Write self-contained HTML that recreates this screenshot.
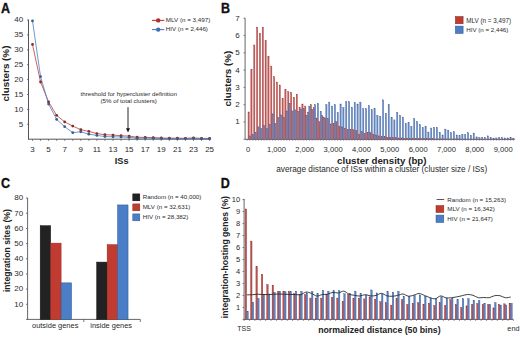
<!DOCTYPE html>
<html><head><meta charset="utf-8"><title>Figure</title>
<style>
html,body{margin:0;padding:0;background:#fff;}
body{width:520px;height:338px;overflow:hidden;}
svg{display:block;font-family:"Liberation Sans", sans-serif;}
</style></head>
<body>
<svg width="520" height="338" viewBox="0 0 520 338">
<rect width="520" height="338" fill="#fff"/>
<text x="1.00" y="12.80" font-size="12.5" font-weight="bold" text-anchor="start" fill="#111" transform="translate(1 12.8) scale(1 1.13) translate(-1 -12.8)" stroke="#111" stroke-width="0.3">A</text>
<line x1="28.50" y1="19.60" x2="28.50" y2="139.20" stroke="#555" stroke-width="1.0"/>
<line x1="28.00" y1="139.20" x2="209.80" y2="139.20" stroke="#555" stroke-width="1.0"/>
<line x1="27.00" y1="124.30" x2="28.50" y2="124.30" stroke="#555" stroke-width="0.8"/>
<text x="23.10" y="126.70" font-size="8" text-anchor="end" fill="#2a2a2a">5</text>
<line x1="27.00" y1="109.40" x2="28.50" y2="109.40" stroke="#555" stroke-width="0.8"/>
<text x="23.10" y="111.80" font-size="8" text-anchor="end" fill="#2a2a2a">10</text>
<line x1="27.00" y1="94.50" x2="28.50" y2="94.50" stroke="#555" stroke-width="0.8"/>
<text x="23.10" y="96.90" font-size="8" text-anchor="end" fill="#2a2a2a">15</text>
<line x1="27.00" y1="79.60" x2="28.50" y2="79.60" stroke="#555" stroke-width="0.8"/>
<text x="23.10" y="82.00" font-size="8" text-anchor="end" fill="#2a2a2a">20</text>
<line x1="27.00" y1="64.70" x2="28.50" y2="64.70" stroke="#555" stroke-width="0.8"/>
<text x="23.10" y="67.10" font-size="8" text-anchor="end" fill="#2a2a2a">25</text>
<line x1="27.00" y1="49.80" x2="28.50" y2="49.80" stroke="#555" stroke-width="0.8"/>
<text x="23.10" y="52.20" font-size="8" text-anchor="end" fill="#2a2a2a">30</text>
<line x1="27.00" y1="34.90" x2="28.50" y2="34.90" stroke="#555" stroke-width="0.8"/>
<text x="23.10" y="37.30" font-size="8" text-anchor="end" fill="#2a2a2a">35</text>
<line x1="27.00" y1="20.00" x2="28.50" y2="20.00" stroke="#555" stroke-width="0.8"/>
<text x="23.10" y="22.40" font-size="8" text-anchor="end" fill="#2a2a2a">40</text>
<line x1="32.50" y1="139.20" x2="32.50" y2="140.80" stroke="#555" stroke-width="0.8"/>
<text x="32.50" y="151.60" font-size="8" text-anchor="middle" fill="#2a2a2a">3</text>
<line x1="40.55" y1="139.20" x2="40.55" y2="140.80" stroke="#555" stroke-width="0.8"/>
<line x1="48.60" y1="139.20" x2="48.60" y2="140.80" stroke="#555" stroke-width="0.8"/>
<text x="48.60" y="151.60" font-size="8" text-anchor="middle" fill="#2a2a2a">5</text>
<line x1="56.65" y1="139.20" x2="56.65" y2="140.80" stroke="#555" stroke-width="0.8"/>
<line x1="64.70" y1="139.20" x2="64.70" y2="140.80" stroke="#555" stroke-width="0.8"/>
<text x="64.70" y="151.60" font-size="8" text-anchor="middle" fill="#2a2a2a">7</text>
<line x1="72.75" y1="139.20" x2="72.75" y2="140.80" stroke="#555" stroke-width="0.8"/>
<line x1="80.80" y1="139.20" x2="80.80" y2="140.80" stroke="#555" stroke-width="0.8"/>
<text x="80.80" y="151.60" font-size="8" text-anchor="middle" fill="#2a2a2a">9</text>
<line x1="88.85" y1="139.20" x2="88.85" y2="140.80" stroke="#555" stroke-width="0.8"/>
<line x1="96.90" y1="139.20" x2="96.90" y2="140.80" stroke="#555" stroke-width="0.8"/>
<text x="96.90" y="151.60" font-size="8" text-anchor="middle" fill="#2a2a2a">11</text>
<line x1="104.95" y1="139.20" x2="104.95" y2="140.80" stroke="#555" stroke-width="0.8"/>
<line x1="113.00" y1="139.20" x2="113.00" y2="140.80" stroke="#555" stroke-width="0.8"/>
<text x="113.00" y="151.60" font-size="8" text-anchor="middle" fill="#2a2a2a">13</text>
<line x1="121.05" y1="139.20" x2="121.05" y2="140.80" stroke="#555" stroke-width="0.8"/>
<line x1="129.10" y1="139.20" x2="129.10" y2="140.80" stroke="#555" stroke-width="0.8"/>
<text x="129.10" y="151.60" font-size="8" text-anchor="middle" fill="#2a2a2a">15</text>
<line x1="137.15" y1="139.20" x2="137.15" y2="140.80" stroke="#555" stroke-width="0.8"/>
<line x1="145.20" y1="139.20" x2="145.20" y2="140.80" stroke="#555" stroke-width="0.8"/>
<text x="145.20" y="151.60" font-size="8" text-anchor="middle" fill="#2a2a2a">17</text>
<line x1="153.25" y1="139.20" x2="153.25" y2="140.80" stroke="#555" stroke-width="0.8"/>
<line x1="161.30" y1="139.20" x2="161.30" y2="140.80" stroke="#555" stroke-width="0.8"/>
<text x="161.30" y="151.60" font-size="8" text-anchor="middle" fill="#2a2a2a">19</text>
<line x1="169.35" y1="139.20" x2="169.35" y2="140.80" stroke="#555" stroke-width="0.8"/>
<line x1="177.40" y1="139.20" x2="177.40" y2="140.80" stroke="#555" stroke-width="0.8"/>
<text x="177.40" y="151.60" font-size="8" text-anchor="middle" fill="#2a2a2a">21</text>
<line x1="185.45" y1="139.20" x2="185.45" y2="140.80" stroke="#555" stroke-width="0.8"/>
<line x1="193.50" y1="139.20" x2="193.50" y2="140.80" stroke="#555" stroke-width="0.8"/>
<text x="193.50" y="151.60" font-size="8" text-anchor="middle" fill="#2a2a2a">23</text>
<line x1="201.55" y1="139.20" x2="201.55" y2="140.80" stroke="#555" stroke-width="0.8"/>
<line x1="209.60" y1="139.20" x2="209.60" y2="140.80" stroke="#555" stroke-width="0.8"/>
<text x="209.60" y="151.60" font-size="8" text-anchor="middle" fill="#2a2a2a">25</text>
<text x="121.70" y="163.90" font-size="9.2" font-weight="bold" text-anchor="middle" fill="#222">ISs</text>
<text x="9.30" y="73.50" font-size="9.85" font-weight="bold" text-anchor="middle" fill="#222" transform="rotate(-90 9.3 73.5)">clusters (%)</text>
<polyline points="32.50,44.44 40.55,81.98 48.60,101.95 56.65,115.36 64.70,121.92 72.75,126.09 80.80,129.66 88.85,131.45 96.90,133.54 104.95,134.73 113.00,135.03 121.05,135.77 129.10,136.07 137.15,137.26 145.20,137.41 153.25,137.56 161.30,138.01 169.35,138.16 177.40,138.16 185.45,138.31 193.50,137.86 201.55,138.45 209.60,138.45" fill="none" stroke="#c23b30" stroke-width="0.8"/>
<polyline points="32.50,20.89 40.55,76.62 48.60,104.04 56.65,119.38 64.70,126.68 72.75,132.64 80.80,131.75 88.85,134.13 96.90,135.47 104.95,136.52 113.00,136.82 121.05,136.96 129.10,137.41 137.15,138.16 145.20,138.01 153.25,138.16 161.30,138.45 169.35,138.60 177.40,138.60 185.45,138.60 193.50,138.45 201.55,138.75 209.60,138.75" fill="none" stroke="#4a7ec6" stroke-width="0.8"/>
<circle cx="32.50" cy="44.44" r="1.4" fill="#8a2a2a"/>
<circle cx="40.55" cy="81.98" r="1.4" fill="#8a2a2a"/>
<circle cx="48.60" cy="101.95" r="1.4" fill="#8a2a2a"/>
<circle cx="56.65" cy="115.36" r="1.4" fill="#8a2a2a"/>
<circle cx="64.70" cy="121.92" r="1.4" fill="#8a2a2a"/>
<circle cx="72.75" cy="126.09" r="1.4" fill="#8a2a2a"/>
<circle cx="80.80" cy="129.66" r="1.4" fill="#8a2a2a"/>
<circle cx="88.85" cy="131.45" r="1.4" fill="#8a2a2a"/>
<circle cx="96.90" cy="133.54" r="1.4" fill="#8a2a2a"/>
<circle cx="104.95" cy="134.73" r="1.4" fill="#8a2a2a"/>
<circle cx="113.00" cy="135.03" r="1.4" fill="#8a2a2a"/>
<circle cx="121.05" cy="135.77" r="1.4" fill="#8a2a2a"/>
<circle cx="129.10" cy="136.07" r="1.4" fill="#8a2a2a"/>
<circle cx="137.15" cy="137.26" r="1.4" fill="#8a2a2a"/>
<circle cx="145.20" cy="137.41" r="1.4" fill="#8a2a2a"/>
<circle cx="153.25" cy="137.56" r="1.4" fill="#8a2a2a"/>
<circle cx="161.30" cy="138.01" r="1.4" fill="#8a2a2a"/>
<circle cx="169.35" cy="138.16" r="1.4" fill="#8a2a2a"/>
<circle cx="177.40" cy="138.16" r="1.4" fill="#8a2a2a"/>
<circle cx="185.45" cy="138.31" r="1.4" fill="#8a2a2a"/>
<circle cx="193.50" cy="137.86" r="1.4" fill="#8a2a2a"/>
<circle cx="201.55" cy="138.45" r="1.4" fill="#8a2a2a"/>
<circle cx="209.60" cy="138.45" r="1.4" fill="#8a2a2a"/>
<circle cx="32.50" cy="20.89" r="1.4" fill="#3a5f8a"/>
<circle cx="40.55" cy="76.62" r="1.4" fill="#3a5f8a"/>
<circle cx="48.60" cy="104.04" r="1.4" fill="#3a5f8a"/>
<circle cx="56.65" cy="119.38" r="1.4" fill="#3a5f8a"/>
<circle cx="64.70" cy="126.68" r="1.4" fill="#3a5f8a"/>
<circle cx="72.75" cy="132.64" r="1.4" fill="#3a5f8a"/>
<circle cx="80.80" cy="131.75" r="1.4" fill="#3a5f8a"/>
<circle cx="88.85" cy="134.13" r="1.4" fill="#3a5f8a"/>
<circle cx="96.90" cy="135.47" r="1.4" fill="#3a5f8a"/>
<circle cx="104.95" cy="136.52" r="1.4" fill="#3a5f8a"/>
<circle cx="113.00" cy="136.82" r="1.4" fill="#3a5f8a"/>
<circle cx="121.05" cy="136.96" r="1.4" fill="#3a5f8a"/>
<circle cx="129.10" cy="137.41" r="1.4" fill="#3a5f8a"/>
<circle cx="137.15" cy="138.16" r="1.4" fill="#3a5f8a"/>
<circle cx="145.20" cy="138.01" r="1.4" fill="#3a5f8a"/>
<circle cx="153.25" cy="138.16" r="1.4" fill="#3a5f8a"/>
<circle cx="161.30" cy="138.45" r="1.4" fill="#3a5f8a"/>
<circle cx="169.35" cy="138.60" r="1.4" fill="#3a5f8a"/>
<circle cx="177.40" cy="138.60" r="1.4" fill="#3a5f8a"/>
<circle cx="185.45" cy="138.60" r="1.4" fill="#3a5f8a"/>
<circle cx="193.50" cy="138.45" r="1.4" fill="#3a5f8a"/>
<circle cx="201.55" cy="138.75" r="1.4" fill="#3a5f8a"/>
<circle cx="209.60" cy="138.75" r="1.4" fill="#3a5f8a"/>
<line x1="152.00" y1="20.40" x2="164.30" y2="20.40" stroke="#c23b30" stroke-width="1.1"/>
<circle cx="158.2" cy="20.4" r="2.2" fill="#b03030"/>
<text x="165.80" y="22.30" font-size="6.25" text-anchor="start" fill="#2a2a2a">MLV (n = 3,497)</text>
<line x1="152.00" y1="29.60" x2="164.30" y2="29.60" stroke="#4a7ec6" stroke-width="1.1"/>
<circle cx="158.2" cy="29.6" r="2.2" fill="#3f6fb0"/>
<text x="165.80" y="31.40" font-size="6.2" text-anchor="start" fill="#2a2a2a">HIV (n = 2,446)</text>
<text x="128.70" y="95.60" font-size="6.2" text-anchor="middle" fill="#2a2a2a">threshold for hypercluster definition</text>
<text x="128.70" y="102.70" font-size="6.2" text-anchor="middle" fill="#2a2a2a">(5% of total clusters)</text>
<line x1="128.00" y1="107.20" x2="128.00" y2="129.00" stroke="#111" stroke-width="0.9"/>
<polygon points="126.0,128.3 130.0,128.3 128.0,132.4" fill="#111"/>
<text x="220.90" y="12.80" font-size="12.5" font-weight="bold" text-anchor="start" fill="#111" transform="translate(220.9 12.8) scale(1 1.13) translate(-220.9 -12.8)" stroke="#111" stroke-width="0.3">B</text>
<line x1="245.10" y1="18.00" x2="245.10" y2="139.30" stroke="#555" stroke-width="0.9"/>
<line x1="245.10" y1="139.30" x2="514.90" y2="139.30" stroke="#555" stroke-width="0.9"/>
<line x1="243.60" y1="139.30" x2="245.10" y2="139.30" stroke="#555" stroke-width="0.8"/>
<line x1="243.60" y1="121.99" x2="245.10" y2="121.99" stroke="#555" stroke-width="0.8"/>
<text x="239.60" y="124.49" font-size="8" text-anchor="end" fill="#2a2a2a">1</text>
<line x1="243.60" y1="104.68" x2="245.10" y2="104.68" stroke="#555" stroke-width="0.8"/>
<text x="239.60" y="107.18" font-size="8" text-anchor="end" fill="#2a2a2a">2</text>
<line x1="243.60" y1="87.37" x2="245.10" y2="87.37" stroke="#555" stroke-width="0.8"/>
<text x="239.60" y="89.87" font-size="8" text-anchor="end" fill="#2a2a2a">3</text>
<line x1="243.60" y1="70.06" x2="245.10" y2="70.06" stroke="#555" stroke-width="0.8"/>
<text x="239.60" y="72.56" font-size="8" text-anchor="end" fill="#2a2a2a">4</text>
<line x1="243.60" y1="52.75" x2="245.10" y2="52.75" stroke="#555" stroke-width="0.8"/>
<text x="239.60" y="55.25" font-size="8" text-anchor="end" fill="#2a2a2a">5</text>
<line x1="243.60" y1="35.44" x2="245.10" y2="35.44" stroke="#555" stroke-width="0.8"/>
<text x="239.60" y="37.94" font-size="8" text-anchor="end" fill="#2a2a2a">6</text>
<line x1="243.60" y1="18.13" x2="245.10" y2="18.13" stroke="#555" stroke-width="0.8"/>
<text x="239.60" y="20.63" font-size="8" text-anchor="end" fill="#2a2a2a">7</text>
<line x1="247.10" y1="139.30" x2="247.10" y2="140.70" stroke="#555" stroke-width="0.6"/>
<line x1="249.93" y1="139.30" x2="249.93" y2="140.70" stroke="#555" stroke-width="0.6"/>
<line x1="252.77" y1="139.30" x2="252.77" y2="140.70" stroke="#555" stroke-width="0.6"/>
<line x1="255.60" y1="139.30" x2="255.60" y2="140.70" stroke="#555" stroke-width="0.6"/>
<line x1="258.43" y1="139.30" x2="258.43" y2="140.70" stroke="#555" stroke-width="0.6"/>
<line x1="261.26" y1="139.30" x2="261.26" y2="140.70" stroke="#555" stroke-width="0.6"/>
<line x1="264.10" y1="139.30" x2="264.10" y2="140.70" stroke="#555" stroke-width="0.6"/>
<line x1="266.93" y1="139.30" x2="266.93" y2="140.70" stroke="#555" stroke-width="0.6"/>
<line x1="269.76" y1="139.30" x2="269.76" y2="140.70" stroke="#555" stroke-width="0.6"/>
<line x1="272.60" y1="139.30" x2="272.60" y2="140.70" stroke="#555" stroke-width="0.6"/>
<line x1="275.43" y1="139.30" x2="275.43" y2="140.70" stroke="#555" stroke-width="0.6"/>
<line x1="278.26" y1="139.30" x2="278.26" y2="140.70" stroke="#555" stroke-width="0.6"/>
<line x1="281.10" y1="139.30" x2="281.10" y2="140.70" stroke="#555" stroke-width="0.6"/>
<line x1="283.93" y1="139.30" x2="283.93" y2="140.70" stroke="#555" stroke-width="0.6"/>
<line x1="286.76" y1="139.30" x2="286.76" y2="140.70" stroke="#555" stroke-width="0.6"/>
<line x1="289.60" y1="139.30" x2="289.60" y2="140.70" stroke="#555" stroke-width="0.6"/>
<line x1="292.43" y1="139.30" x2="292.43" y2="140.70" stroke="#555" stroke-width="0.6"/>
<line x1="295.26" y1="139.30" x2="295.26" y2="140.70" stroke="#555" stroke-width="0.6"/>
<line x1="298.09" y1="139.30" x2="298.09" y2="140.70" stroke="#555" stroke-width="0.6"/>
<line x1="300.93" y1="139.30" x2="300.93" y2="140.70" stroke="#555" stroke-width="0.6"/>
<line x1="303.76" y1="139.30" x2="303.76" y2="140.70" stroke="#555" stroke-width="0.6"/>
<line x1="306.59" y1="139.30" x2="306.59" y2="140.70" stroke="#555" stroke-width="0.6"/>
<line x1="309.43" y1="139.30" x2="309.43" y2="140.70" stroke="#555" stroke-width="0.6"/>
<line x1="312.26" y1="139.30" x2="312.26" y2="140.70" stroke="#555" stroke-width="0.6"/>
<line x1="315.09" y1="139.30" x2="315.09" y2="140.70" stroke="#555" stroke-width="0.6"/>
<line x1="317.93" y1="139.30" x2="317.93" y2="140.70" stroke="#555" stroke-width="0.6"/>
<line x1="320.76" y1="139.30" x2="320.76" y2="140.70" stroke="#555" stroke-width="0.6"/>
<line x1="323.59" y1="139.30" x2="323.59" y2="140.70" stroke="#555" stroke-width="0.6"/>
<line x1="326.42" y1="139.30" x2="326.42" y2="140.70" stroke="#555" stroke-width="0.6"/>
<line x1="329.26" y1="139.30" x2="329.26" y2="140.70" stroke="#555" stroke-width="0.6"/>
<line x1="332.09" y1="139.30" x2="332.09" y2="140.70" stroke="#555" stroke-width="0.6"/>
<line x1="334.92" y1="139.30" x2="334.92" y2="140.70" stroke="#555" stroke-width="0.6"/>
<line x1="337.76" y1="139.30" x2="337.76" y2="140.70" stroke="#555" stroke-width="0.6"/>
<line x1="340.59" y1="139.30" x2="340.59" y2="140.70" stroke="#555" stroke-width="0.6"/>
<line x1="343.42" y1="139.30" x2="343.42" y2="140.70" stroke="#555" stroke-width="0.6"/>
<line x1="346.25" y1="139.30" x2="346.25" y2="140.70" stroke="#555" stroke-width="0.6"/>
<line x1="349.09" y1="139.30" x2="349.09" y2="140.70" stroke="#555" stroke-width="0.6"/>
<line x1="351.92" y1="139.30" x2="351.92" y2="140.70" stroke="#555" stroke-width="0.6"/>
<line x1="354.75" y1="139.30" x2="354.75" y2="140.70" stroke="#555" stroke-width="0.6"/>
<line x1="357.59" y1="139.30" x2="357.59" y2="140.70" stroke="#555" stroke-width="0.6"/>
<line x1="360.42" y1="139.30" x2="360.42" y2="140.70" stroke="#555" stroke-width="0.6"/>
<line x1="363.25" y1="139.30" x2="363.25" y2="140.70" stroke="#555" stroke-width="0.6"/>
<line x1="366.09" y1="139.30" x2="366.09" y2="140.70" stroke="#555" stroke-width="0.6"/>
<line x1="368.92" y1="139.30" x2="368.92" y2="140.70" stroke="#555" stroke-width="0.6"/>
<line x1="371.75" y1="139.30" x2="371.75" y2="140.70" stroke="#555" stroke-width="0.6"/>
<line x1="374.59" y1="139.30" x2="374.59" y2="140.70" stroke="#555" stroke-width="0.6"/>
<line x1="377.42" y1="139.30" x2="377.42" y2="140.70" stroke="#555" stroke-width="0.6"/>
<line x1="380.25" y1="139.30" x2="380.25" y2="140.70" stroke="#555" stroke-width="0.6"/>
<line x1="383.08" y1="139.30" x2="383.08" y2="140.70" stroke="#555" stroke-width="0.6"/>
<line x1="385.92" y1="139.30" x2="385.92" y2="140.70" stroke="#555" stroke-width="0.6"/>
<line x1="388.75" y1="139.30" x2="388.75" y2="140.70" stroke="#555" stroke-width="0.6"/>
<line x1="391.58" y1="139.30" x2="391.58" y2="140.70" stroke="#555" stroke-width="0.6"/>
<line x1="394.42" y1="139.30" x2="394.42" y2="140.70" stroke="#555" stroke-width="0.6"/>
<line x1="397.25" y1="139.30" x2="397.25" y2="140.70" stroke="#555" stroke-width="0.6"/>
<line x1="400.08" y1="139.30" x2="400.08" y2="140.70" stroke="#555" stroke-width="0.6"/>
<line x1="402.91" y1="139.30" x2="402.91" y2="140.70" stroke="#555" stroke-width="0.6"/>
<line x1="405.75" y1="139.30" x2="405.75" y2="140.70" stroke="#555" stroke-width="0.6"/>
<line x1="408.58" y1="139.30" x2="408.58" y2="140.70" stroke="#555" stroke-width="0.6"/>
<line x1="411.41" y1="139.30" x2="411.41" y2="140.70" stroke="#555" stroke-width="0.6"/>
<line x1="414.25" y1="139.30" x2="414.25" y2="140.70" stroke="#555" stroke-width="0.6"/>
<line x1="417.08" y1="139.30" x2="417.08" y2="140.70" stroke="#555" stroke-width="0.6"/>
<line x1="419.91" y1="139.30" x2="419.91" y2="140.70" stroke="#555" stroke-width="0.6"/>
<line x1="422.75" y1="139.30" x2="422.75" y2="140.70" stroke="#555" stroke-width="0.6"/>
<line x1="425.58" y1="139.30" x2="425.58" y2="140.70" stroke="#555" stroke-width="0.6"/>
<line x1="428.41" y1="139.30" x2="428.41" y2="140.70" stroke="#555" stroke-width="0.6"/>
<line x1="431.25" y1="139.30" x2="431.25" y2="140.70" stroke="#555" stroke-width="0.6"/>
<line x1="434.08" y1="139.30" x2="434.08" y2="140.70" stroke="#555" stroke-width="0.6"/>
<line x1="436.91" y1="139.30" x2="436.91" y2="140.70" stroke="#555" stroke-width="0.6"/>
<line x1="439.74" y1="139.30" x2="439.74" y2="140.70" stroke="#555" stroke-width="0.6"/>
<line x1="442.58" y1="139.30" x2="442.58" y2="140.70" stroke="#555" stroke-width="0.6"/>
<line x1="445.41" y1="139.30" x2="445.41" y2="140.70" stroke="#555" stroke-width="0.6"/>
<line x1="448.24" y1="139.30" x2="448.24" y2="140.70" stroke="#555" stroke-width="0.6"/>
<line x1="451.08" y1="139.30" x2="451.08" y2="140.70" stroke="#555" stroke-width="0.6"/>
<line x1="453.91" y1="139.30" x2="453.91" y2="140.70" stroke="#555" stroke-width="0.6"/>
<line x1="456.74" y1="139.30" x2="456.74" y2="140.70" stroke="#555" stroke-width="0.6"/>
<line x1="459.58" y1="139.30" x2="459.58" y2="140.70" stroke="#555" stroke-width="0.6"/>
<line x1="462.41" y1="139.30" x2="462.41" y2="140.70" stroke="#555" stroke-width="0.6"/>
<line x1="465.24" y1="139.30" x2="465.24" y2="140.70" stroke="#555" stroke-width="0.6"/>
<line x1="468.07" y1="139.30" x2="468.07" y2="140.70" stroke="#555" stroke-width="0.6"/>
<line x1="470.91" y1="139.30" x2="470.91" y2="140.70" stroke="#555" stroke-width="0.6"/>
<line x1="473.74" y1="139.30" x2="473.74" y2="140.70" stroke="#555" stroke-width="0.6"/>
<line x1="476.57" y1="139.30" x2="476.57" y2="140.70" stroke="#555" stroke-width="0.6"/>
<line x1="479.41" y1="139.30" x2="479.41" y2="140.70" stroke="#555" stroke-width="0.6"/>
<line x1="482.24" y1="139.30" x2="482.24" y2="140.70" stroke="#555" stroke-width="0.6"/>
<line x1="485.07" y1="139.30" x2="485.07" y2="140.70" stroke="#555" stroke-width="0.6"/>
<line x1="487.90" y1="139.30" x2="487.90" y2="140.70" stroke="#555" stroke-width="0.6"/>
<line x1="490.74" y1="139.30" x2="490.74" y2="140.70" stroke="#555" stroke-width="0.6"/>
<line x1="493.57" y1="139.30" x2="493.57" y2="140.70" stroke="#555" stroke-width="0.6"/>
<line x1="496.40" y1="139.30" x2="496.40" y2="140.70" stroke="#555" stroke-width="0.6"/>
<line x1="499.24" y1="139.30" x2="499.24" y2="140.70" stroke="#555" stroke-width="0.6"/>
<line x1="502.07" y1="139.30" x2="502.07" y2="140.70" stroke="#555" stroke-width="0.6"/>
<line x1="504.90" y1="139.30" x2="504.90" y2="140.70" stroke="#555" stroke-width="0.6"/>
<line x1="507.74" y1="139.30" x2="507.74" y2="140.70" stroke="#555" stroke-width="0.6"/>
<line x1="510.57" y1="139.30" x2="510.57" y2="140.70" stroke="#555" stroke-width="0.6"/>
<line x1="513.40" y1="139.30" x2="513.40" y2="140.70" stroke="#555" stroke-width="0.6"/>
<text x="248.10" y="151.90" font-size="7.6" text-anchor="middle" fill="#2a2a2a">0</text>
<text x="276.44" y="151.90" font-size="7.6" text-anchor="middle" fill="#2a2a2a">1,000</text>
<text x="304.78" y="151.90" font-size="7.6" text-anchor="middle" fill="#2a2a2a">2,000</text>
<text x="333.12" y="151.90" font-size="7.6" text-anchor="middle" fill="#2a2a2a">3,000</text>
<text x="361.46" y="151.90" font-size="7.6" text-anchor="middle" fill="#2a2a2a">4,000</text>
<text x="389.80" y="151.90" font-size="7.6" text-anchor="middle" fill="#2a2a2a">5,000</text>
<text x="418.14" y="151.90" font-size="7.6" text-anchor="middle" fill="#2a2a2a">6,000</text>
<text x="446.48" y="151.90" font-size="7.6" text-anchor="middle" fill="#2a2a2a">7,000</text>
<text x="474.82" y="151.90" font-size="7.6" text-anchor="middle" fill="#2a2a2a">8,000</text>
<text x="503.16" y="151.90" font-size="7.6" text-anchor="middle" fill="#2a2a2a">9,000</text>
<text x="381.80" y="163.60" font-size="9.7" font-weight="bold" text-anchor="middle" fill="#222">cluster density (bp)</text>
<text x="381.70" y="172.30" font-size="8.25" text-anchor="middle" fill="#2a2a2a">average distance of ISs within a cluster (cluster size / ISs)</text>
<text x="230.90" y="78.60" font-size="9.85" font-weight="bold" text-anchor="middle" fill="#222" transform="rotate(-90 230.9 78.6)">clusters (%)</text>
<rect x="248.00" y="111.95" width="1.25" height="27.35" fill="#c95a57" stroke="#9a3a3a" stroke-width="0.35"/>
<rect x="249.30" y="135.84" width="1.25" height="3.46" fill="#658bca" stroke="#41609a" stroke-width="0.35"/>
<rect x="250.83" y="69.71" width="1.25" height="69.59" fill="#c95a57" stroke="#9a3a3a" stroke-width="0.35"/>
<rect x="252.13" y="134.45" width="1.25" height="4.85" fill="#658bca" stroke="#41609a" stroke-width="0.35"/>
<rect x="253.67" y="44.96" width="1.25" height="94.34" fill="#c95a57" stroke="#9a3a3a" stroke-width="0.35"/>
<rect x="254.97" y="132.72" width="1.25" height="6.58" fill="#658bca" stroke="#41609a" stroke-width="0.35"/>
<rect x="256.50" y="27.13" width="1.25" height="112.17" fill="#c95a57" stroke="#9a3a3a" stroke-width="0.35"/>
<rect x="257.80" y="126.84" width="1.25" height="12.46" fill="#658bca" stroke="#41609a" stroke-width="0.35"/>
<rect x="259.33" y="33.36" width="1.25" height="105.94" fill="#c95a57" stroke="#9a3a3a" stroke-width="0.35"/>
<rect x="260.63" y="128.57" width="1.25" height="10.73" fill="#658bca" stroke="#41609a" stroke-width="0.35"/>
<rect x="262.17" y="27.13" width="1.25" height="112.17" fill="#c95a57" stroke="#9a3a3a" stroke-width="0.35"/>
<rect x="263.47" y="125.11" width="1.25" height="14.19" fill="#658bca" stroke="#41609a" stroke-width="0.35"/>
<rect x="265.00" y="40.63" width="1.25" height="98.67" fill="#c95a57" stroke="#9a3a3a" stroke-width="0.35"/>
<rect x="266.30" y="128.57" width="1.25" height="10.73" fill="#658bca" stroke="#41609a" stroke-width="0.35"/>
<rect x="267.83" y="56.39" width="1.25" height="82.91" fill="#c95a57" stroke="#9a3a3a" stroke-width="0.35"/>
<rect x="269.13" y="124.41" width="1.25" height="14.89" fill="#658bca" stroke="#41609a" stroke-width="0.35"/>
<rect x="270.66" y="66.08" width="1.25" height="73.22" fill="#c95a57" stroke="#9a3a3a" stroke-width="0.35"/>
<rect x="271.96" y="113.85" width="1.25" height="25.45" fill="#658bca" stroke="#41609a" stroke-width="0.35"/>
<rect x="273.50" y="76.81" width="1.25" height="62.49" fill="#c95a57" stroke="#9a3a3a" stroke-width="0.35"/>
<rect x="274.80" y="123.20" width="1.25" height="16.10" fill="#658bca" stroke="#41609a" stroke-width="0.35"/>
<rect x="276.33" y="82.00" width="1.25" height="57.30" fill="#c95a57" stroke="#9a3a3a" stroke-width="0.35"/>
<rect x="277.63" y="117.32" width="1.25" height="21.98" fill="#658bca" stroke="#41609a" stroke-width="0.35"/>
<rect x="279.16" y="84.95" width="1.25" height="54.35" fill="#c95a57" stroke="#9a3a3a" stroke-width="0.35"/>
<rect x="280.46" y="114.89" width="1.25" height="24.41" fill="#658bca" stroke="#41609a" stroke-width="0.35"/>
<rect x="282.00" y="98.28" width="1.25" height="41.02" fill="#c95a57" stroke="#9a3a3a" stroke-width="0.35"/>
<rect x="283.30" y="117.32" width="1.25" height="21.98" fill="#658bca" stroke="#41609a" stroke-width="0.35"/>
<rect x="284.83" y="89.45" width="1.25" height="49.85" fill="#c95a57" stroke="#9a3a3a" stroke-width="0.35"/>
<rect x="286.13" y="110.91" width="1.25" height="28.39" fill="#658bca" stroke="#41609a" stroke-width="0.35"/>
<rect x="287.66" y="91.70" width="1.25" height="47.60" fill="#c95a57" stroke="#9a3a3a" stroke-width="0.35"/>
<rect x="288.96" y="103.64" width="1.25" height="35.66" fill="#658bca" stroke="#41609a" stroke-width="0.35"/>
<rect x="290.50" y="92.39" width="1.25" height="46.91" fill="#c95a57" stroke="#9a3a3a" stroke-width="0.35"/>
<rect x="291.80" y="110.91" width="1.25" height="28.39" fill="#658bca" stroke="#41609a" stroke-width="0.35"/>
<rect x="293.33" y="97.24" width="1.25" height="42.06" fill="#c95a57" stroke="#9a3a3a" stroke-width="0.35"/>
<rect x="294.63" y="109.87" width="1.25" height="29.43" fill="#658bca" stroke="#41609a" stroke-width="0.35"/>
<rect x="296.16" y="94.12" width="1.25" height="45.18" fill="#c95a57" stroke="#9a3a3a" stroke-width="0.35"/>
<rect x="297.46" y="111.26" width="1.25" height="28.04" fill="#658bca" stroke="#41609a" stroke-width="0.35"/>
<rect x="298.99" y="107.28" width="1.25" height="32.02" fill="#c95a57" stroke="#9a3a3a" stroke-width="0.35"/>
<rect x="300.29" y="109.18" width="1.25" height="30.12" fill="#658bca" stroke="#41609a" stroke-width="0.35"/>
<rect x="301.83" y="103.99" width="1.25" height="35.31" fill="#c95a57" stroke="#9a3a3a" stroke-width="0.35"/>
<rect x="303.13" y="108.49" width="1.25" height="30.81" fill="#658bca" stroke="#41609a" stroke-width="0.35"/>
<rect x="304.66" y="106.06" width="1.25" height="33.24" fill="#c95a57" stroke="#9a3a3a" stroke-width="0.35"/>
<rect x="305.96" y="115.76" width="1.25" height="23.54" fill="#658bca" stroke="#41609a" stroke-width="0.35"/>
<rect x="307.49" y="112.12" width="1.25" height="27.18" fill="#c95a57" stroke="#9a3a3a" stroke-width="0.35"/>
<rect x="308.79" y="106.06" width="1.25" height="33.24" fill="#658bca" stroke="#41609a" stroke-width="0.35"/>
<rect x="310.33" y="104.68" width="1.25" height="34.62" fill="#c95a57" stroke="#9a3a3a" stroke-width="0.35"/>
<rect x="311.63" y="109.18" width="1.25" height="30.12" fill="#658bca" stroke="#41609a" stroke-width="0.35"/>
<rect x="313.16" y="107.62" width="1.25" height="31.68" fill="#c95a57" stroke="#9a3a3a" stroke-width="0.35"/>
<rect x="314.46" y="104.68" width="1.25" height="34.62" fill="#658bca" stroke="#41609a" stroke-width="0.35"/>
<rect x="315.99" y="118.01" width="1.25" height="21.29" fill="#c95a57" stroke="#9a3a3a" stroke-width="0.35"/>
<rect x="317.29" y="103.47" width="1.25" height="35.83" fill="#658bca" stroke="#41609a" stroke-width="0.35"/>
<rect x="318.82" y="121.64" width="1.25" height="17.66" fill="#c95a57" stroke="#9a3a3a" stroke-width="0.35"/>
<rect x="320.12" y="111.26" width="1.25" height="28.04" fill="#658bca" stroke="#41609a" stroke-width="0.35"/>
<rect x="321.66" y="115.76" width="1.25" height="23.54" fill="#c95a57" stroke="#9a3a3a" stroke-width="0.35"/>
<rect x="322.96" y="117.14" width="1.25" height="22.16" fill="#658bca" stroke="#41609a" stroke-width="0.35"/>
<rect x="324.49" y="118.01" width="1.25" height="21.29" fill="#c95a57" stroke="#9a3a3a" stroke-width="0.35"/>
<rect x="325.79" y="104.68" width="1.25" height="34.62" fill="#658bca" stroke="#41609a" stroke-width="0.35"/>
<rect x="327.32" y="118.70" width="1.25" height="20.60" fill="#c95a57" stroke="#9a3a3a" stroke-width="0.35"/>
<rect x="328.62" y="102.08" width="1.25" height="37.22" fill="#658bca" stroke="#41609a" stroke-width="0.35"/>
<rect x="330.16" y="123.89" width="1.25" height="15.41" fill="#c95a57" stroke="#9a3a3a" stroke-width="0.35"/>
<rect x="331.46" y="106.06" width="1.25" height="33.24" fill="#658bca" stroke="#41609a" stroke-width="0.35"/>
<rect x="332.99" y="123.20" width="1.25" height="16.10" fill="#c95a57" stroke="#9a3a3a" stroke-width="0.35"/>
<rect x="334.29" y="104.68" width="1.25" height="34.62" fill="#658bca" stroke="#41609a" stroke-width="0.35"/>
<rect x="335.82" y="121.64" width="1.25" height="17.66" fill="#c95a57" stroke="#9a3a3a" stroke-width="0.35"/>
<rect x="337.12" y="112.82" width="1.25" height="26.48" fill="#658bca" stroke="#41609a" stroke-width="0.35"/>
<rect x="338.66" y="126.14" width="1.25" height="13.16" fill="#c95a57" stroke="#9a3a3a" stroke-width="0.35"/>
<rect x="339.96" y="103.99" width="1.25" height="35.31" fill="#658bca" stroke="#41609a" stroke-width="0.35"/>
<rect x="341.49" y="126.84" width="1.25" height="12.46" fill="#c95a57" stroke="#9a3a3a" stroke-width="0.35"/>
<rect x="342.79" y="107.62" width="1.25" height="31.68" fill="#658bca" stroke="#41609a" stroke-width="0.35"/>
<rect x="344.32" y="128.39" width="1.25" height="10.91" fill="#c95a57" stroke="#9a3a3a" stroke-width="0.35"/>
<rect x="345.62" y="101.74" width="1.25" height="37.56" fill="#658bca" stroke="#41609a" stroke-width="0.35"/>
<rect x="347.15" y="129.78" width="1.25" height="9.52" fill="#c95a57" stroke="#9a3a3a" stroke-width="0.35"/>
<rect x="348.45" y="101.74" width="1.25" height="37.56" fill="#658bca" stroke="#41609a" stroke-width="0.35"/>
<rect x="349.99" y="129.78" width="1.25" height="9.52" fill="#c95a57" stroke="#9a3a3a" stroke-width="0.35"/>
<rect x="351.29" y="107.28" width="1.25" height="32.02" fill="#658bca" stroke="#41609a" stroke-width="0.35"/>
<rect x="352.82" y="129.78" width="1.25" height="9.52" fill="#c95a57" stroke="#9a3a3a" stroke-width="0.35"/>
<rect x="354.12" y="102.60" width="1.25" height="36.70" fill="#658bca" stroke="#41609a" stroke-width="0.35"/>
<rect x="355.65" y="130.47" width="1.25" height="8.83" fill="#c95a57" stroke="#9a3a3a" stroke-width="0.35"/>
<rect x="356.95" y="103.99" width="1.25" height="35.31" fill="#658bca" stroke="#41609a" stroke-width="0.35"/>
<rect x="358.49" y="134.11" width="1.25" height="5.19" fill="#c95a57" stroke="#9a3a3a" stroke-width="0.35"/>
<rect x="359.79" y="102.08" width="1.25" height="37.22" fill="#658bca" stroke="#41609a" stroke-width="0.35"/>
<rect x="361.32" y="131.51" width="1.25" height="7.79" fill="#c95a57" stroke="#9a3a3a" stroke-width="0.35"/>
<rect x="362.62" y="108.66" width="1.25" height="30.64" fill="#658bca" stroke="#41609a" stroke-width="0.35"/>
<rect x="364.15" y="133.24" width="1.25" height="6.06" fill="#c95a57" stroke="#9a3a3a" stroke-width="0.35"/>
<rect x="365.45" y="108.66" width="1.25" height="30.64" fill="#658bca" stroke="#41609a" stroke-width="0.35"/>
<rect x="366.99" y="132.38" width="1.25" height="6.92" fill="#c95a57" stroke="#9a3a3a" stroke-width="0.35"/>
<rect x="368.29" y="105.72" width="1.25" height="33.58" fill="#658bca" stroke="#41609a" stroke-width="0.35"/>
<rect x="369.82" y="132.38" width="1.25" height="6.92" fill="#c95a57" stroke="#9a3a3a" stroke-width="0.35"/>
<rect x="371.12" y="109.70" width="1.25" height="29.60" fill="#658bca" stroke="#41609a" stroke-width="0.35"/>
<rect x="372.65" y="134.11" width="1.25" height="5.19" fill="#c95a57" stroke="#9a3a3a" stroke-width="0.35"/>
<rect x="373.95" y="108.66" width="1.25" height="30.64" fill="#658bca" stroke="#41609a" stroke-width="0.35"/>
<rect x="375.49" y="134.97" width="1.25" height="4.33" fill="#c95a57" stroke="#9a3a3a" stroke-width="0.35"/>
<rect x="376.79" y="115.41" width="1.25" height="23.89" fill="#658bca" stroke="#41609a" stroke-width="0.35"/>
<rect x="378.32" y="135.84" width="1.25" height="3.46" fill="#c95a57" stroke="#9a3a3a" stroke-width="0.35"/>
<rect x="379.62" y="116.28" width="1.25" height="23.02" fill="#658bca" stroke="#41609a" stroke-width="0.35"/>
<rect x="381.15" y="136.18" width="1.25" height="3.12" fill="#c95a57" stroke="#9a3a3a" stroke-width="0.35"/>
<rect x="382.45" y="99.83" width="1.25" height="39.47" fill="#658bca" stroke="#41609a" stroke-width="0.35"/>
<rect x="383.98" y="136.70" width="1.25" height="2.60" fill="#c95a57" stroke="#9a3a3a" stroke-width="0.35"/>
<rect x="385.28" y="113.34" width="1.25" height="25.96" fill="#658bca" stroke="#41609a" stroke-width="0.35"/>
<rect x="386.82" y="137.22" width="1.25" height="2.08" fill="#c95a57" stroke="#9a3a3a" stroke-width="0.35"/>
<rect x="388.12" y="104.51" width="1.25" height="34.79" fill="#658bca" stroke="#41609a" stroke-width="0.35"/>
<rect x="389.65" y="137.22" width="1.25" height="2.08" fill="#c95a57" stroke="#9a3a3a" stroke-width="0.35"/>
<rect x="390.95" y="117.14" width="1.25" height="22.16" fill="#658bca" stroke="#41609a" stroke-width="0.35"/>
<rect x="392.48" y="137.57" width="1.25" height="1.73" fill="#c95a57" stroke="#9a3a3a" stroke-width="0.35"/>
<rect x="393.78" y="119.91" width="1.25" height="19.39" fill="#658bca" stroke="#41609a" stroke-width="0.35"/>
<rect x="395.32" y="137.57" width="1.25" height="1.73" fill="#c95a57" stroke="#9a3a3a" stroke-width="0.35"/>
<rect x="396.62" y="112.30" width="1.25" height="27.00" fill="#658bca" stroke="#41609a" stroke-width="0.35"/>
<rect x="398.15" y="137.92" width="1.25" height="1.38" fill="#c95a57" stroke="#9a3a3a" stroke-width="0.35"/>
<rect x="399.45" y="115.41" width="1.25" height="23.89" fill="#658bca" stroke="#41609a" stroke-width="0.35"/>
<rect x="400.98" y="137.92" width="1.25" height="1.38" fill="#c95a57" stroke="#9a3a3a" stroke-width="0.35"/>
<rect x="402.28" y="117.14" width="1.25" height="22.16" fill="#658bca" stroke="#41609a" stroke-width="0.35"/>
<rect x="403.81" y="138.26" width="1.25" height="1.04" fill="#c95a57" stroke="#9a3a3a" stroke-width="0.35"/>
<rect x="405.12" y="123.37" width="1.25" height="15.93" fill="#658bca" stroke="#41609a" stroke-width="0.35"/>
<rect x="406.65" y="138.26" width="1.25" height="1.04" fill="#c95a57" stroke="#9a3a3a" stroke-width="0.35"/>
<rect x="407.95" y="122.51" width="1.25" height="16.79" fill="#658bca" stroke="#41609a" stroke-width="0.35"/>
<rect x="409.48" y="138.43" width="1.25" height="0.87" fill="#c95a57" stroke="#9a3a3a" stroke-width="0.35"/>
<rect x="410.78" y="126.49" width="1.25" height="12.81" fill="#658bca" stroke="#41609a" stroke-width="0.35"/>
<rect x="412.31" y="138.43" width="1.25" height="0.87" fill="#c95a57" stroke="#9a3a3a" stroke-width="0.35"/>
<rect x="413.61" y="118.70" width="1.25" height="20.60" fill="#658bca" stroke="#41609a" stroke-width="0.35"/>
<rect x="415.15" y="138.61" width="1.25" height="0.69" fill="#c95a57" stroke="#9a3a3a" stroke-width="0.35"/>
<rect x="416.45" y="121.64" width="1.25" height="17.66" fill="#658bca" stroke="#41609a" stroke-width="0.35"/>
<rect x="417.98" y="138.61" width="1.25" height="0.69" fill="#c95a57" stroke="#9a3a3a" stroke-width="0.35"/>
<rect x="419.28" y="124.59" width="1.25" height="14.71" fill="#658bca" stroke="#41609a" stroke-width="0.35"/>
<rect x="420.81" y="138.61" width="1.25" height="0.69" fill="#c95a57" stroke="#9a3a3a" stroke-width="0.35"/>
<rect x="422.11" y="127.53" width="1.25" height="11.77" fill="#658bca" stroke="#41609a" stroke-width="0.35"/>
<rect x="423.65" y="138.78" width="1.25" height="0.52" fill="#c95a57" stroke="#9a3a3a" stroke-width="0.35"/>
<rect x="424.95" y="126.14" width="1.25" height="13.16" fill="#658bca" stroke="#41609a" stroke-width="0.35"/>
<rect x="426.48" y="138.78" width="1.25" height="0.52" fill="#c95a57" stroke="#9a3a3a" stroke-width="0.35"/>
<rect x="427.78" y="132.03" width="1.25" height="7.27" fill="#658bca" stroke="#41609a" stroke-width="0.35"/>
<rect x="429.31" y="138.78" width="1.25" height="0.52" fill="#c95a57" stroke="#9a3a3a" stroke-width="0.35"/>
<rect x="430.61" y="128.05" width="1.25" height="11.25" fill="#658bca" stroke="#41609a" stroke-width="0.35"/>
<rect x="432.14" y="138.78" width="1.25" height="0.52" fill="#c95a57" stroke="#9a3a3a" stroke-width="0.35"/>
<rect x="433.44" y="127.36" width="1.25" height="11.94" fill="#658bca" stroke="#41609a" stroke-width="0.35"/>
<rect x="434.98" y="138.95" width="1.25" height="0.35" fill="#c95a57" stroke="#9a3a3a" stroke-width="0.35"/>
<rect x="436.28" y="127.53" width="1.25" height="11.77" fill="#658bca" stroke="#41609a" stroke-width="0.35"/>
<rect x="437.81" y="138.95" width="1.25" height="0.35" fill="#c95a57" stroke="#9a3a3a" stroke-width="0.35"/>
<rect x="439.11" y="132.38" width="1.25" height="6.92" fill="#658bca" stroke="#41609a" stroke-width="0.35"/>
<rect x="440.64" y="138.95" width="1.25" height="0.35" fill="#c95a57" stroke="#9a3a3a" stroke-width="0.35"/>
<rect x="441.94" y="134.97" width="1.25" height="4.33" fill="#658bca" stroke="#41609a" stroke-width="0.35"/>
<rect x="443.48" y="138.95" width="1.25" height="0.35" fill="#c95a57" stroke="#9a3a3a" stroke-width="0.35"/>
<rect x="444.78" y="129.09" width="1.25" height="10.21" fill="#658bca" stroke="#41609a" stroke-width="0.35"/>
<rect x="446.31" y="138.95" width="1.25" height="0.35" fill="#c95a57" stroke="#9a3a3a" stroke-width="0.35"/>
<rect x="447.61" y="130.13" width="1.25" height="9.17" fill="#658bca" stroke="#41609a" stroke-width="0.35"/>
<rect x="449.14" y="138.95" width="1.25" height="0.35" fill="#c95a57" stroke="#9a3a3a" stroke-width="0.35"/>
<rect x="450.44" y="132.72" width="1.25" height="6.58" fill="#658bca" stroke="#41609a" stroke-width="0.35"/>
<rect x="451.98" y="138.95" width="1.25" height="0.35" fill="#c95a57" stroke="#9a3a3a" stroke-width="0.35"/>
<rect x="453.28" y="131.68" width="1.25" height="7.62" fill="#658bca" stroke="#41609a" stroke-width="0.35"/>
<rect x="454.81" y="138.95" width="1.25" height="0.35" fill="#c95a57" stroke="#9a3a3a" stroke-width="0.35"/>
<rect x="456.11" y="134.97" width="1.25" height="4.33" fill="#658bca" stroke="#41609a" stroke-width="0.35"/>
<rect x="457.64" y="138.95" width="1.25" height="0.35" fill="#c95a57" stroke="#9a3a3a" stroke-width="0.35"/>
<rect x="458.94" y="135.66" width="1.25" height="3.64" fill="#658bca" stroke="#41609a" stroke-width="0.35"/>
<rect x="460.48" y="139.13" width="1.25" height="0.17" fill="#c95a57" stroke="#9a3a3a" stroke-width="0.35"/>
<rect x="461.78" y="134.28" width="1.25" height="5.02" fill="#658bca" stroke="#41609a" stroke-width="0.35"/>
<rect x="463.31" y="139.13" width="1.25" height="0.17" fill="#c95a57" stroke="#9a3a3a" stroke-width="0.35"/>
<rect x="464.61" y="134.45" width="1.25" height="4.85" fill="#658bca" stroke="#41609a" stroke-width="0.35"/>
<rect x="466.14" y="139.13" width="1.25" height="0.17" fill="#c95a57" stroke="#9a3a3a" stroke-width="0.35"/>
<rect x="467.44" y="132.72" width="1.25" height="6.58" fill="#658bca" stroke="#41609a" stroke-width="0.35"/>
<rect x="468.97" y="139.13" width="1.25" height="0.17" fill="#c95a57" stroke="#9a3a3a" stroke-width="0.35"/>
<rect x="470.27" y="135.32" width="1.25" height="3.98" fill="#658bca" stroke="#41609a" stroke-width="0.35"/>
<rect x="471.81" y="139.13" width="1.25" height="0.17" fill="#c95a57" stroke="#9a3a3a" stroke-width="0.35"/>
<rect x="473.11" y="133.07" width="1.25" height="6.23" fill="#658bca" stroke="#41609a" stroke-width="0.35"/>
<rect x="474.64" y="139.13" width="1.25" height="0.17" fill="#c95a57" stroke="#9a3a3a" stroke-width="0.35"/>
<rect x="475.94" y="136.88" width="1.25" height="2.42" fill="#658bca" stroke="#41609a" stroke-width="0.35"/>
<rect x="477.47" y="139.13" width="1.25" height="0.17" fill="#c95a57" stroke="#9a3a3a" stroke-width="0.35"/>
<rect x="478.77" y="137.57" width="1.25" height="1.73" fill="#658bca" stroke="#41609a" stroke-width="0.35"/>
<rect x="480.31" y="139.13" width="1.25" height="0.17" fill="#c95a57" stroke="#9a3a3a" stroke-width="0.35"/>
<rect x="481.61" y="137.22" width="1.25" height="2.08" fill="#658bca" stroke="#41609a" stroke-width="0.35"/>
<rect x="483.14" y="139.13" width="1.25" height="0.17" fill="#c95a57" stroke="#9a3a3a" stroke-width="0.35"/>
<rect x="484.44" y="137.57" width="1.25" height="1.73" fill="#658bca" stroke="#41609a" stroke-width="0.35"/>
<rect x="485.97" y="139.13" width="1.25" height="0.17" fill="#c95a57" stroke="#9a3a3a" stroke-width="0.35"/>
<rect x="487.27" y="135.84" width="1.25" height="3.46" fill="#658bca" stroke="#41609a" stroke-width="0.35"/>
<rect x="488.81" y="139.13" width="1.25" height="0.17" fill="#c95a57" stroke="#9a3a3a" stroke-width="0.35"/>
<rect x="490.11" y="137.57" width="1.25" height="1.73" fill="#658bca" stroke="#41609a" stroke-width="0.35"/>
<rect x="491.64" y="139.13" width="1.25" height="0.17" fill="#c95a57" stroke="#9a3a3a" stroke-width="0.35"/>
<rect x="492.94" y="138.09" width="1.25" height="1.21" fill="#658bca" stroke="#41609a" stroke-width="0.35"/>
<rect x="494.47" y="139.13" width="1.25" height="0.17" fill="#c95a57" stroke="#9a3a3a" stroke-width="0.35"/>
<rect x="495.77" y="137.92" width="1.25" height="1.38" fill="#658bca" stroke="#41609a" stroke-width="0.35"/>
<rect x="497.30" y="139.13" width="1.25" height="0.17" fill="#c95a57" stroke="#9a3a3a" stroke-width="0.35"/>
<rect x="498.60" y="137.57" width="1.25" height="1.73" fill="#658bca" stroke="#41609a" stroke-width="0.35"/>
<rect x="500.14" y="139.13" width="1.25" height="0.17" fill="#c95a57" stroke="#9a3a3a" stroke-width="0.35"/>
<rect x="501.44" y="137.57" width="1.25" height="1.73" fill="#658bca" stroke="#41609a" stroke-width="0.35"/>
<rect x="502.97" y="139.13" width="1.25" height="0.17" fill="#c95a57" stroke="#9a3a3a" stroke-width="0.35"/>
<rect x="504.27" y="137.92" width="1.25" height="1.38" fill="#658bca" stroke="#41609a" stroke-width="0.35"/>
<rect x="505.80" y="139.13" width="1.25" height="0.17" fill="#c95a57" stroke="#9a3a3a" stroke-width="0.35"/>
<rect x="507.10" y="137.92" width="1.25" height="1.38" fill="#658bca" stroke="#41609a" stroke-width="0.35"/>
<rect x="508.64" y="139.13" width="1.25" height="0.17" fill="#c95a57" stroke="#9a3a3a" stroke-width="0.35"/>
<rect x="509.94" y="137.57" width="1.25" height="1.73" fill="#658bca" stroke="#41609a" stroke-width="0.35"/>
<rect x="511.47" y="139.13" width="1.25" height="0.17" fill="#c95a57" stroke="#9a3a3a" stroke-width="0.35"/>
<rect x="512.77" y="138.09" width="1.25" height="1.21" fill="#658bca" stroke="#41609a" stroke-width="0.35"/>
<rect x="455.40" y="16.50" width="7.70" height="7.30" fill="#c23b30" stroke="#7a2a2a" stroke-width="0.5"/>
<text x="466.20" y="23.10" font-size="6.3" text-anchor="start" fill="#2a2a2a">MLV (n = 3,497)</text>
<rect x="455.40" y="26.10" width="7.70" height="7.40" fill="#4a7ec6" stroke="#2f4f7f" stroke-width="0.5"/>
<text x="466.20" y="32.20" font-size="6.2" text-anchor="start" fill="#2a2a2a">HIV (n = 2,446)</text>
<text x="0.90" y="187.80" font-size="12.5" font-weight="bold" text-anchor="start" fill="#111" transform="translate(0.9 187.8) scale(1 1.13) translate(-0.9 -187.8)" stroke="#111" stroke-width="0.3">C</text>
<line x1="27.60" y1="197.80" x2="27.60" y2="319.40" stroke="#555" stroke-width="0.9"/>
<line x1="27.20" y1="319.40" x2="140.30" y2="319.40" stroke="#555" stroke-width="0.9"/>
<line x1="26.00" y1="319.40" x2="27.60" y2="319.40" stroke="#555" stroke-width="0.8"/>
<line x1="26.00" y1="304.24" x2="27.60" y2="304.24" stroke="#555" stroke-width="0.8"/>
<text x="23.10" y="306.54" font-size="8" text-anchor="end" fill="#2a2a2a">10</text>
<line x1="26.00" y1="289.08" x2="27.60" y2="289.08" stroke="#555" stroke-width="0.8"/>
<text x="23.10" y="291.38" font-size="8" text-anchor="end" fill="#2a2a2a">20</text>
<line x1="26.00" y1="273.92" x2="27.60" y2="273.92" stroke="#555" stroke-width="0.8"/>
<text x="23.10" y="276.22" font-size="8" text-anchor="end" fill="#2a2a2a">30</text>
<line x1="26.00" y1="258.76" x2="27.60" y2="258.76" stroke="#555" stroke-width="0.8"/>
<text x="23.10" y="261.06" font-size="8" text-anchor="end" fill="#2a2a2a">40</text>
<line x1="26.00" y1="243.60" x2="27.60" y2="243.60" stroke="#555" stroke-width="0.8"/>
<text x="23.10" y="245.90" font-size="8" text-anchor="end" fill="#2a2a2a">50</text>
<line x1="26.00" y1="228.44" x2="27.60" y2="228.44" stroke="#555" stroke-width="0.8"/>
<text x="23.10" y="230.74" font-size="8" text-anchor="end" fill="#2a2a2a">60</text>
<line x1="26.00" y1="213.28" x2="27.60" y2="213.28" stroke="#555" stroke-width="0.8"/>
<text x="23.10" y="215.58" font-size="8" text-anchor="end" fill="#2a2a2a">70</text>
<line x1="26.00" y1="198.12" x2="27.60" y2="198.12" stroke="#555" stroke-width="0.8"/>
<text x="23.10" y="200.42" font-size="8" text-anchor="end" fill="#2a2a2a">80</text>
<line x1="83.80" y1="319.40" x2="83.80" y2="322.00" stroke="#555" stroke-width="0.8"/>
<line x1="140.30" y1="319.40" x2="140.30" y2="322.00" stroke="#555" stroke-width="0.8"/>
<rect x="40.20" y="225.71" width="10.45" height="93.69" fill="#222" stroke="#111" stroke-width="0.5"/>
<rect x="50.65" y="243.15" width="10.45" height="76.25" fill="#c23b30" stroke="#8a2a22" stroke-width="0.5"/>
<rect x="61.10" y="282.86" width="10.45" height="36.54" fill="#4a7ec6" stroke="#2f5590" stroke-width="0.5"/>
<rect x="96.70" y="262.10" width="10.45" height="57.30" fill="#222" stroke="#111" stroke-width="0.5"/>
<rect x="107.15" y="244.66" width="10.45" height="74.74" fill="#c23b30" stroke="#8a2a22" stroke-width="0.5"/>
<rect x="117.60" y="204.94" width="10.45" height="114.46" fill="#4a7ec6" stroke="#2f5590" stroke-width="0.5"/>
<text x="55.20" y="328.30" font-size="7.45" text-anchor="middle" fill="#2a2a2a">outside genes</text>
<text x="111.20" y="328.30" font-size="7.45" text-anchor="middle" fill="#2a2a2a">inside genes</text>
<text x="10.00" y="250.60" font-size="8.7" font-weight="bold" text-anchor="middle" fill="#222" transform="rotate(-90 10.0 250.6)">integration sites (%)</text>
<rect x="132.80" y="193.90" width="7.00" height="6.90" fill="#222" stroke="#000" stroke-width="0.5"/>
<text x="142.70" y="199.30" font-size="6.2" text-anchor="start" fill="#2a2a2a">Random (n = 40,000)</text>
<rect x="132.80" y="203.90" width="7.00" height="6.90" fill="#c23b30" stroke="#7a2a22" stroke-width="0.5"/>
<text x="142.70" y="209.30" font-size="6.2" text-anchor="start" fill="#2a2a2a">MLV (n = 32,631)</text>
<rect x="132.80" y="213.90" width="7.00" height="6.90" fill="#4a7ec6" stroke="#2f5590" stroke-width="0.5"/>
<text x="142.70" y="218.80" font-size="6.2" text-anchor="start" fill="#2a2a2a">HIV (n = 28,382)</text>
<text x="220.70" y="187.80" font-size="12.5" font-weight="bold" text-anchor="start" fill="#111" transform="translate(220.7 187.8) scale(1 1.13) translate(-220.7 -187.8)" stroke="#111" stroke-width="0.3">D</text>
<line x1="244.10" y1="198.80" x2="244.10" y2="319.40" stroke="#555" stroke-width="0.9"/>
<line x1="244.10" y1="319.40" x2="513.40" y2="319.40" stroke="#555" stroke-width="0.9"/>
<line x1="242.60" y1="319.40" x2="244.10" y2="319.40" stroke="#555" stroke-width="0.8"/>
<line x1="242.60" y1="307.42" x2="244.10" y2="307.42" stroke="#555" stroke-width="0.8"/>
<text x="240.10" y="309.72" font-size="7.5" text-anchor="end" fill="#2a2a2a">1</text>
<line x1="242.60" y1="295.44" x2="244.10" y2="295.44" stroke="#555" stroke-width="0.8"/>
<text x="240.10" y="297.74" font-size="7.5" text-anchor="end" fill="#2a2a2a">2</text>
<line x1="242.60" y1="283.46" x2="244.10" y2="283.46" stroke="#555" stroke-width="0.8"/>
<text x="240.10" y="285.76" font-size="7.5" text-anchor="end" fill="#2a2a2a">3</text>
<line x1="242.60" y1="271.48" x2="244.10" y2="271.48" stroke="#555" stroke-width="0.8"/>
<text x="240.10" y="273.78" font-size="7.5" text-anchor="end" fill="#2a2a2a">4</text>
<line x1="242.60" y1="259.50" x2="244.10" y2="259.50" stroke="#555" stroke-width="0.8"/>
<text x="240.10" y="261.80" font-size="7.5" text-anchor="end" fill="#2a2a2a">5</text>
<line x1="242.60" y1="247.52" x2="244.10" y2="247.52" stroke="#555" stroke-width="0.8"/>
<text x="240.10" y="249.82" font-size="7.5" text-anchor="end" fill="#2a2a2a">6</text>
<line x1="242.60" y1="235.54" x2="244.10" y2="235.54" stroke="#555" stroke-width="0.8"/>
<text x="240.10" y="237.84" font-size="7.5" text-anchor="end" fill="#2a2a2a">7</text>
<line x1="242.60" y1="223.56" x2="244.10" y2="223.56" stroke="#555" stroke-width="0.8"/>
<text x="240.10" y="225.86" font-size="7.5" text-anchor="end" fill="#2a2a2a">8</text>
<line x1="242.60" y1="211.58" x2="244.10" y2="211.58" stroke="#555" stroke-width="0.8"/>
<text x="240.10" y="213.88" font-size="7.5" text-anchor="end" fill="#2a2a2a">9</text>
<line x1="242.60" y1="199.60" x2="244.10" y2="199.60" stroke="#555" stroke-width="0.8"/>
<text x="240.10" y="201.90" font-size="7.5" text-anchor="end" fill="#2a2a2a">10</text>
<line x1="244.10" y1="319.40" x2="244.10" y2="321.00" stroke="#555" stroke-width="0.6"/>
<line x1="249.49" y1="319.40" x2="249.49" y2="321.00" stroke="#555" stroke-width="0.6"/>
<line x1="254.87" y1="319.40" x2="254.87" y2="321.00" stroke="#555" stroke-width="0.6"/>
<line x1="260.26" y1="319.40" x2="260.26" y2="321.00" stroke="#555" stroke-width="0.6"/>
<line x1="265.64" y1="319.40" x2="265.64" y2="321.00" stroke="#555" stroke-width="0.6"/>
<line x1="271.03" y1="319.40" x2="271.03" y2="321.00" stroke="#555" stroke-width="0.6"/>
<line x1="276.42" y1="319.40" x2="276.42" y2="321.00" stroke="#555" stroke-width="0.6"/>
<line x1="281.80" y1="319.40" x2="281.80" y2="321.00" stroke="#555" stroke-width="0.6"/>
<line x1="287.19" y1="319.40" x2="287.19" y2="321.00" stroke="#555" stroke-width="0.6"/>
<line x1="292.57" y1="319.40" x2="292.57" y2="321.00" stroke="#555" stroke-width="0.6"/>
<line x1="297.96" y1="319.40" x2="297.96" y2="321.00" stroke="#555" stroke-width="0.6"/>
<line x1="303.35" y1="319.40" x2="303.35" y2="321.00" stroke="#555" stroke-width="0.6"/>
<line x1="308.73" y1="319.40" x2="308.73" y2="321.00" stroke="#555" stroke-width="0.6"/>
<line x1="314.12" y1="319.40" x2="314.12" y2="321.00" stroke="#555" stroke-width="0.6"/>
<line x1="319.50" y1="319.40" x2="319.50" y2="321.00" stroke="#555" stroke-width="0.6"/>
<line x1="324.89" y1="319.40" x2="324.89" y2="321.00" stroke="#555" stroke-width="0.6"/>
<line x1="330.28" y1="319.40" x2="330.28" y2="321.00" stroke="#555" stroke-width="0.6"/>
<line x1="335.66" y1="319.40" x2="335.66" y2="321.00" stroke="#555" stroke-width="0.6"/>
<line x1="341.05" y1="319.40" x2="341.05" y2="321.00" stroke="#555" stroke-width="0.6"/>
<line x1="346.43" y1="319.40" x2="346.43" y2="321.00" stroke="#555" stroke-width="0.6"/>
<line x1="351.82" y1="319.40" x2="351.82" y2="321.00" stroke="#555" stroke-width="0.6"/>
<line x1="357.21" y1="319.40" x2="357.21" y2="321.00" stroke="#555" stroke-width="0.6"/>
<line x1="362.59" y1="319.40" x2="362.59" y2="321.00" stroke="#555" stroke-width="0.6"/>
<line x1="367.98" y1="319.40" x2="367.98" y2="321.00" stroke="#555" stroke-width="0.6"/>
<line x1="373.36" y1="319.40" x2="373.36" y2="321.00" stroke="#555" stroke-width="0.6"/>
<line x1="378.75" y1="319.40" x2="378.75" y2="321.00" stroke="#555" stroke-width="0.6"/>
<line x1="384.14" y1="319.40" x2="384.14" y2="321.00" stroke="#555" stroke-width="0.6"/>
<line x1="389.52" y1="319.40" x2="389.52" y2="321.00" stroke="#555" stroke-width="0.6"/>
<line x1="394.91" y1="319.40" x2="394.91" y2="321.00" stroke="#555" stroke-width="0.6"/>
<line x1="400.29" y1="319.40" x2="400.29" y2="321.00" stroke="#555" stroke-width="0.6"/>
<line x1="405.68" y1="319.40" x2="405.68" y2="321.00" stroke="#555" stroke-width="0.6"/>
<line x1="411.07" y1="319.40" x2="411.07" y2="321.00" stroke="#555" stroke-width="0.6"/>
<line x1="416.45" y1="319.40" x2="416.45" y2="321.00" stroke="#555" stroke-width="0.6"/>
<line x1="421.84" y1="319.40" x2="421.84" y2="321.00" stroke="#555" stroke-width="0.6"/>
<line x1="427.22" y1="319.40" x2="427.22" y2="321.00" stroke="#555" stroke-width="0.6"/>
<line x1="432.61" y1="319.40" x2="432.61" y2="321.00" stroke="#555" stroke-width="0.6"/>
<line x1="438.00" y1="319.40" x2="438.00" y2="321.00" stroke="#555" stroke-width="0.6"/>
<line x1="443.38" y1="319.40" x2="443.38" y2="321.00" stroke="#555" stroke-width="0.6"/>
<line x1="448.77" y1="319.40" x2="448.77" y2="321.00" stroke="#555" stroke-width="0.6"/>
<line x1="454.15" y1="319.40" x2="454.15" y2="321.00" stroke="#555" stroke-width="0.6"/>
<line x1="459.54" y1="319.40" x2="459.54" y2="321.00" stroke="#555" stroke-width="0.6"/>
<line x1="464.93" y1="319.40" x2="464.93" y2="321.00" stroke="#555" stroke-width="0.6"/>
<line x1="470.31" y1="319.40" x2="470.31" y2="321.00" stroke="#555" stroke-width="0.6"/>
<line x1="475.70" y1="319.40" x2="475.70" y2="321.00" stroke="#555" stroke-width="0.6"/>
<line x1="481.08" y1="319.40" x2="481.08" y2="321.00" stroke="#555" stroke-width="0.6"/>
<line x1="486.47" y1="319.40" x2="486.47" y2="321.00" stroke="#555" stroke-width="0.6"/>
<line x1="491.86" y1="319.40" x2="491.86" y2="321.00" stroke="#555" stroke-width="0.6"/>
<line x1="497.24" y1="319.40" x2="497.24" y2="321.00" stroke="#555" stroke-width="0.6"/>
<line x1="502.63" y1="319.40" x2="502.63" y2="321.00" stroke="#555" stroke-width="0.6"/>
<line x1="508.01" y1="319.40" x2="508.01" y2="321.00" stroke="#555" stroke-width="0.6"/>
<line x1="513.40" y1="319.40" x2="513.40" y2="321.00" stroke="#555" stroke-width="0.6"/>
<rect x="245.14" y="208.94" width="1.50" height="110.46" fill="#c0504d" stroke="#8a2f2f" stroke-width="0.35"/>
<rect x="246.84" y="311.37" width="1.50" height="8.03" fill="#5b83c8" stroke="#37578f" stroke-width="0.35"/>
<rect x="250.53" y="241.05" width="1.50" height="78.35" fill="#c0504d" stroke="#8a2f2f" stroke-width="0.35"/>
<rect x="252.23" y="302.27" width="1.50" height="17.13" fill="#5b83c8" stroke="#37578f" stroke-width="0.35"/>
<rect x="255.91" y="266.69" width="1.50" height="52.71" fill="#c0504d" stroke="#8a2f2f" stroke-width="0.35"/>
<rect x="257.62" y="298.44" width="1.50" height="20.96" fill="#5b83c8" stroke="#37578f" stroke-width="0.35"/>
<rect x="261.30" y="274.36" width="1.50" height="45.04" fill="#c0504d" stroke="#8a2f2f" stroke-width="0.35"/>
<rect x="263.00" y="294.60" width="1.50" height="24.80" fill="#5b83c8" stroke="#37578f" stroke-width="0.35"/>
<rect x="266.69" y="284.54" width="1.50" height="34.86" fill="#c0504d" stroke="#8a2f2f" stroke-width="0.35"/>
<rect x="268.39" y="294.00" width="1.50" height="25.40" fill="#5b83c8" stroke="#37578f" stroke-width="0.35"/>
<rect x="272.07" y="285.14" width="1.50" height="34.26" fill="#c0504d" stroke="#8a2f2f" stroke-width="0.35"/>
<rect x="273.77" y="292.21" width="1.50" height="27.19" fill="#5b83c8" stroke="#37578f" stroke-width="0.35"/>
<rect x="277.46" y="291.25" width="1.50" height="28.15" fill="#c0504d" stroke="#8a2f2f" stroke-width="0.35"/>
<rect x="279.16" y="291.25" width="1.50" height="28.15" fill="#5b83c8" stroke="#37578f" stroke-width="0.35"/>
<rect x="282.85" y="291.25" width="1.50" height="28.15" fill="#c0504d" stroke="#8a2f2f" stroke-width="0.35"/>
<rect x="284.55" y="291.61" width="1.50" height="27.79" fill="#5b83c8" stroke="#37578f" stroke-width="0.35"/>
<rect x="288.23" y="291.25" width="1.50" height="28.15" fill="#c0504d" stroke="#8a2f2f" stroke-width="0.35"/>
<rect x="289.93" y="291.61" width="1.50" height="27.79" fill="#5b83c8" stroke="#37578f" stroke-width="0.35"/>
<rect x="293.62" y="293.64" width="1.50" height="25.76" fill="#c0504d" stroke="#8a2f2f" stroke-width="0.35"/>
<rect x="295.32" y="291.13" width="1.50" height="28.27" fill="#5b83c8" stroke="#37578f" stroke-width="0.35"/>
<rect x="299.00" y="294.48" width="1.50" height="24.92" fill="#c0504d" stroke="#8a2f2f" stroke-width="0.35"/>
<rect x="300.70" y="291.37" width="1.50" height="28.03" fill="#5b83c8" stroke="#37578f" stroke-width="0.35"/>
<rect x="304.39" y="294.72" width="1.50" height="24.68" fill="#c0504d" stroke="#8a2f2f" stroke-width="0.35"/>
<rect x="306.09" y="292.92" width="1.50" height="26.48" fill="#5b83c8" stroke="#37578f" stroke-width="0.35"/>
<rect x="309.77" y="298.08" width="1.50" height="21.32" fill="#c0504d" stroke="#8a2f2f" stroke-width="0.35"/>
<rect x="311.47" y="291.37" width="1.50" height="28.03" fill="#5b83c8" stroke="#37578f" stroke-width="0.35"/>
<rect x="315.16" y="298.08" width="1.50" height="21.32" fill="#c0504d" stroke="#8a2f2f" stroke-width="0.35"/>
<rect x="316.86" y="293.40" width="1.50" height="26.00" fill="#5b83c8" stroke="#37578f" stroke-width="0.35"/>
<rect x="320.55" y="298.08" width="1.50" height="21.32" fill="#c0504d" stroke="#8a2f2f" stroke-width="0.35"/>
<rect x="322.25" y="290.41" width="1.50" height="28.99" fill="#5b83c8" stroke="#37578f" stroke-width="0.35"/>
<rect x="325.93" y="294.36" width="1.50" height="25.04" fill="#c0504d" stroke="#8a2f2f" stroke-width="0.35"/>
<rect x="327.63" y="291.13" width="1.50" height="28.27" fill="#5b83c8" stroke="#37578f" stroke-width="0.35"/>
<rect x="331.32" y="297.36" width="1.50" height="22.04" fill="#c0504d" stroke="#8a2f2f" stroke-width="0.35"/>
<rect x="333.02" y="290.77" width="1.50" height="28.63" fill="#5b83c8" stroke="#37578f" stroke-width="0.35"/>
<rect x="336.70" y="298.08" width="1.50" height="21.32" fill="#c0504d" stroke="#8a2f2f" stroke-width="0.35"/>
<rect x="338.40" y="290.41" width="1.50" height="28.99" fill="#5b83c8" stroke="#37578f" stroke-width="0.35"/>
<rect x="342.09" y="301.43" width="1.50" height="17.97" fill="#c0504d" stroke="#8a2f2f" stroke-width="0.35"/>
<rect x="343.79" y="293.64" width="1.50" height="25.76" fill="#5b83c8" stroke="#37578f" stroke-width="0.35"/>
<rect x="347.48" y="294.60" width="1.50" height="24.80" fill="#c0504d" stroke="#8a2f2f" stroke-width="0.35"/>
<rect x="349.18" y="293.40" width="1.50" height="26.00" fill="#5b83c8" stroke="#37578f" stroke-width="0.35"/>
<rect x="352.86" y="298.08" width="1.50" height="21.32" fill="#c0504d" stroke="#8a2f2f" stroke-width="0.35"/>
<rect x="354.56" y="291.13" width="1.50" height="28.27" fill="#5b83c8" stroke="#37578f" stroke-width="0.35"/>
<rect x="358.25" y="298.08" width="1.50" height="21.32" fill="#c0504d" stroke="#8a2f2f" stroke-width="0.35"/>
<rect x="359.95" y="293.40" width="1.50" height="26.00" fill="#5b83c8" stroke="#37578f" stroke-width="0.35"/>
<rect x="363.63" y="298.91" width="1.50" height="20.49" fill="#c0504d" stroke="#8a2f2f" stroke-width="0.35"/>
<rect x="365.33" y="295.20" width="1.50" height="24.20" fill="#5b83c8" stroke="#37578f" stroke-width="0.35"/>
<rect x="369.02" y="296.88" width="1.50" height="22.52" fill="#c0504d" stroke="#8a2f2f" stroke-width="0.35"/>
<rect x="370.72" y="289.93" width="1.50" height="29.47" fill="#5b83c8" stroke="#37578f" stroke-width="0.35"/>
<rect x="374.41" y="299.15" width="1.50" height="20.25" fill="#c0504d" stroke="#8a2f2f" stroke-width="0.35"/>
<rect x="376.11" y="292.92" width="1.50" height="26.48" fill="#5b83c8" stroke="#37578f" stroke-width="0.35"/>
<rect x="379.79" y="301.79" width="1.50" height="17.61" fill="#c0504d" stroke="#8a2f2f" stroke-width="0.35"/>
<rect x="381.49" y="294.00" width="1.50" height="25.40" fill="#5b83c8" stroke="#37578f" stroke-width="0.35"/>
<rect x="385.18" y="302.75" width="1.50" height="16.65" fill="#c0504d" stroke="#8a2f2f" stroke-width="0.35"/>
<rect x="386.88" y="291.61" width="1.50" height="27.79" fill="#5b83c8" stroke="#37578f" stroke-width="0.35"/>
<rect x="390.56" y="305.14" width="1.50" height="14.26" fill="#c0504d" stroke="#8a2f2f" stroke-width="0.35"/>
<rect x="392.26" y="292.21" width="1.50" height="27.19" fill="#5b83c8" stroke="#37578f" stroke-width="0.35"/>
<rect x="395.95" y="298.55" width="1.50" height="20.85" fill="#c0504d" stroke="#8a2f2f" stroke-width="0.35"/>
<rect x="397.65" y="291.13" width="1.50" height="28.27" fill="#5b83c8" stroke="#37578f" stroke-width="0.35"/>
<rect x="401.34" y="299.63" width="1.50" height="19.77" fill="#c0504d" stroke="#8a2f2f" stroke-width="0.35"/>
<rect x="403.04" y="296.16" width="1.50" height="23.24" fill="#5b83c8" stroke="#37578f" stroke-width="0.35"/>
<rect x="406.72" y="304.42" width="1.50" height="14.98" fill="#c0504d" stroke="#8a2f2f" stroke-width="0.35"/>
<rect x="408.42" y="296.16" width="1.50" height="23.24" fill="#5b83c8" stroke="#37578f" stroke-width="0.35"/>
<rect x="412.11" y="303.23" width="1.50" height="16.17" fill="#c0504d" stroke="#8a2f2f" stroke-width="0.35"/>
<rect x="413.81" y="295.56" width="1.50" height="23.84" fill="#5b83c8" stroke="#37578f" stroke-width="0.35"/>
<rect x="417.50" y="302.63" width="1.50" height="16.77" fill="#c0504d" stroke="#8a2f2f" stroke-width="0.35"/>
<rect x="419.19" y="294.96" width="1.50" height="24.44" fill="#5b83c8" stroke="#37578f" stroke-width="0.35"/>
<rect x="422.88" y="304.42" width="1.50" height="14.98" fill="#c0504d" stroke="#8a2f2f" stroke-width="0.35"/>
<rect x="424.58" y="296.16" width="1.50" height="23.24" fill="#5b83c8" stroke="#37578f" stroke-width="0.35"/>
<rect x="428.27" y="303.23" width="1.50" height="16.17" fill="#c0504d" stroke="#8a2f2f" stroke-width="0.35"/>
<rect x="429.97" y="298.20" width="1.50" height="21.20" fill="#5b83c8" stroke="#37578f" stroke-width="0.35"/>
<rect x="433.65" y="305.50" width="1.50" height="13.90" fill="#c0504d" stroke="#8a2f2f" stroke-width="0.35"/>
<rect x="435.35" y="298.67" width="1.50" height="20.73" fill="#5b83c8" stroke="#37578f" stroke-width="0.35"/>
<rect x="439.04" y="302.63" width="1.50" height="16.77" fill="#c0504d" stroke="#8a2f2f" stroke-width="0.35"/>
<rect x="440.74" y="296.88" width="1.50" height="22.52" fill="#5b83c8" stroke="#37578f" stroke-width="0.35"/>
<rect x="444.42" y="305.50" width="1.50" height="13.90" fill="#c0504d" stroke="#8a2f2f" stroke-width="0.35"/>
<rect x="446.12" y="298.20" width="1.50" height="21.20" fill="#5b83c8" stroke="#37578f" stroke-width="0.35"/>
<rect x="449.81" y="299.63" width="1.50" height="19.77" fill="#c0504d" stroke="#8a2f2f" stroke-width="0.35"/>
<rect x="451.51" y="298.20" width="1.50" height="21.20" fill="#5b83c8" stroke="#37578f" stroke-width="0.35"/>
<rect x="455.20" y="304.42" width="1.50" height="14.98" fill="#c0504d" stroke="#8a2f2f" stroke-width="0.35"/>
<rect x="456.90" y="299.39" width="1.50" height="20.01" fill="#5b83c8" stroke="#37578f" stroke-width="0.35"/>
<rect x="460.58" y="307.42" width="1.50" height="11.98" fill="#c0504d" stroke="#8a2f2f" stroke-width="0.35"/>
<rect x="462.28" y="298.67" width="1.50" height="20.73" fill="#5b83c8" stroke="#37578f" stroke-width="0.35"/>
<rect x="465.97" y="305.86" width="1.50" height="13.54" fill="#c0504d" stroke="#8a2f2f" stroke-width="0.35"/>
<rect x="467.67" y="298.67" width="1.50" height="20.73" fill="#5b83c8" stroke="#37578f" stroke-width="0.35"/>
<rect x="471.36" y="304.42" width="1.50" height="14.98" fill="#c0504d" stroke="#8a2f2f" stroke-width="0.35"/>
<rect x="473.06" y="300.23" width="1.50" height="19.17" fill="#5b83c8" stroke="#37578f" stroke-width="0.35"/>
<rect x="476.74" y="303.47" width="1.50" height="15.93" fill="#c0504d" stroke="#8a2f2f" stroke-width="0.35"/>
<rect x="478.44" y="300.23" width="1.50" height="19.17" fill="#5b83c8" stroke="#37578f" stroke-width="0.35"/>
<rect x="482.13" y="304.66" width="1.50" height="14.74" fill="#c0504d" stroke="#8a2f2f" stroke-width="0.35"/>
<rect x="483.83" y="303.23" width="1.50" height="16.17" fill="#5b83c8" stroke="#37578f" stroke-width="0.35"/>
<rect x="487.51" y="304.42" width="1.50" height="14.98" fill="#c0504d" stroke="#8a2f2f" stroke-width="0.35"/>
<rect x="489.21" y="304.42" width="1.50" height="14.98" fill="#5b83c8" stroke="#37578f" stroke-width="0.35"/>
<rect x="492.90" y="307.90" width="1.50" height="11.50" fill="#c0504d" stroke="#8a2f2f" stroke-width="0.35"/>
<rect x="494.60" y="302.63" width="1.50" height="16.77" fill="#5b83c8" stroke="#37578f" stroke-width="0.35"/>
<rect x="498.28" y="304.42" width="1.50" height="14.98" fill="#c0504d" stroke="#8a2f2f" stroke-width="0.35"/>
<rect x="499.98" y="305.02" width="1.50" height="14.38" fill="#5b83c8" stroke="#37578f" stroke-width="0.35"/>
<rect x="503.67" y="303.83" width="1.50" height="15.57" fill="#c0504d" stroke="#8a2f2f" stroke-width="0.35"/>
<rect x="505.37" y="305.02" width="1.50" height="14.38" fill="#5b83c8" stroke="#37578f" stroke-width="0.35"/>
<rect x="509.06" y="303.23" width="1.50" height="16.17" fill="#c0504d" stroke="#8a2f2f" stroke-width="0.35"/>
<rect x="510.76" y="303.23" width="1.50" height="16.17" fill="#5b83c8" stroke="#37578f" stroke-width="0.35"/>
<path d="M246.79,294.84 C247.69,294.82 250.38,294.82 252.18,294.72 C253.97,294.62 255.77,294.28 257.56,294.24 C259.36,294.20 261.16,294.42 262.95,294.48 C264.75,294.54 266.54,294.64 268.34,294.60 C270.13,294.56 271.93,294.34 273.72,294.24 C275.52,294.14 277.31,294.00 279.11,294.00 C280.90,294.00 282.70,294.16 284.50,294.24 C286.29,294.32 288.09,294.44 289.88,294.48 C291.68,294.52 293.47,294.44 295.27,294.48 C297.06,294.52 298.86,295.12 300.65,294.72 C302.45,294.32 304.24,292.31 306.04,292.09 C307.83,291.87 309.63,292.74 311.42,293.40 C313.22,294.06 315.02,295.84 316.81,296.04 C318.61,296.24 320.40,294.90 322.20,294.60 C323.99,294.30 325.79,294.62 327.58,294.24 C329.38,293.86 331.17,292.52 332.97,292.33 C334.76,292.13 336.56,293.24 338.35,293.04 C340.15,292.84 341.95,290.93 343.74,291.13 C345.54,291.33 347.33,293.54 349.13,294.24 C350.92,294.94 352.72,295.02 354.51,295.32 C356.31,295.62 358.10,296.16 359.90,296.04 C361.69,295.92 363.49,294.62 365.28,294.60 C367.08,294.58 368.88,295.78 370.67,295.92 C372.47,296.06 374.26,295.88 376.06,295.44 C377.85,295.00 379.65,293.22 381.44,293.28 C383.24,293.34 385.03,295.30 386.83,295.80 C388.62,296.30 390.42,296.34 392.21,296.28 C394.01,296.22 395.81,295.82 397.60,295.44 C399.40,295.06 401.19,293.88 402.99,294.00 C404.78,294.12 406.58,295.96 408.37,296.16 C410.17,296.36 411.96,295.64 413.76,295.20 C415.55,294.76 417.35,293.48 419.14,293.52 C420.94,293.56 422.74,294.76 424.53,295.44 C426.33,296.12 428.12,297.04 429.92,297.60 C431.71,298.16 433.51,299.07 435.30,298.79 C437.10,298.51 438.89,296.08 440.69,295.92 C442.48,295.76 444.28,297.54 446.07,297.84 C447.87,298.14 449.67,297.88 451.46,297.72 C453.26,297.56 455.05,297.22 456.85,296.88 C458.64,296.54 460.44,296.08 462.23,295.68 C464.03,295.28 465.82,294.54 467.62,294.48 C469.41,294.42 471.21,294.78 473.00,295.32 C474.80,295.86 476.60,297.36 478.39,297.72 C480.19,298.08 481.98,297.48 483.78,297.48 C485.57,297.48 487.37,298.02 489.16,297.72 C490.96,297.42 492.75,296.02 494.55,295.68 C496.34,295.34 498.14,295.34 499.93,295.68 C501.73,296.02 503.53,297.50 505.32,297.72 C507.12,297.94 509.81,297.12 510.71,297.00" fill="none" stroke="#2a2a2a" stroke-width="0.9"/>
<text x="244.00" y="330.60" font-size="7.0" text-anchor="middle" fill="#2a2a2a">TSS</text>
<text x="513.40" y="331.00" font-size="7.25" text-anchor="middle" fill="#2a2a2a">end</text>
<text x="379.40" y="333.20" font-size="8.75" font-weight="bold" text-anchor="middle" fill="#222">normalized distance (50 bins)</text>
<text x="228.40" y="257.10" font-size="8.67" font-weight="bold" text-anchor="middle" fill="#222" transform="rotate(-90 228.4 257.1)">integration-hosting genes (%)</text>
<line x1="436.60" y1="199.50" x2="444.20" y2="199.50" stroke="#444" stroke-width="0.9"/>
<text x="447.30" y="201.70" font-size="6.2" text-anchor="start" fill="#2a2a2a">Random (n = 15,263)</text>
<rect x="436.00" y="205.60" width="7.80" height="6.90" fill="#c23b30" stroke="#7a2a22" stroke-width="0.5"/>
<text x="447.30" y="211.20" font-size="6.2" text-anchor="start" fill="#2a2a2a">MLV (n = 16,342)</text>
<rect x="436.00" y="215.10" width="7.80" height="7.40" fill="#4a7ec6" stroke="#2f5590" stroke-width="0.5"/>
<text x="447.30" y="221.10" font-size="6.2" text-anchor="start" fill="#2a2a2a">HIV (n = 21,647)</text>
</svg>
</body></html>
